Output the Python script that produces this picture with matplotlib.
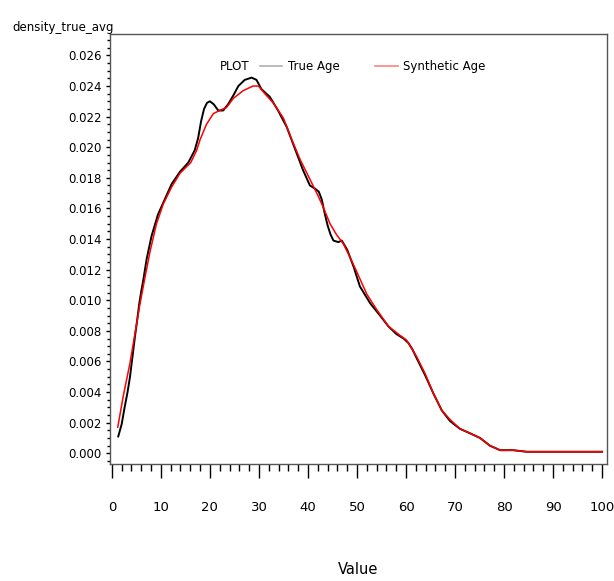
"""Density plot: true vs synthetic age."""

import matplotlib

matplotlib.use("Agg")
import matplotlib.pyplot as plt  # noqa: E402
from matplotlib import font_manager  # noqa: E402
from matplotlib.lines import Line2D  # noqa: E402
from matplotlib.ticker import MultipleLocator  # noqa: E402

true_x = [1.3, 2.0, 2.6, 3.2, 3.7, 4.2, 4.7, 5.2, 5.6, 6.0, 6.4, 7.1, 8.1, 9.4, 10.8,
          12.2, 13.9, 15.6, 16.9, 17.6, 18.2, 18.8, 19.4, 20.0, 20.8, 21.7, 22.7, 23.7,
          24.8, 25.8, 27.1, 28.5, 29.5, 30.5, 32.2, 33.9, 35.7, 37.7, 39.0, 40.4, 41.4,
          42.2, 42.8, 43.4, 44.0, 44.6, 45.2, 46.2, 46.9, 48.0, 49.3, 50.6, 52.7, 54.7,
          56.4, 58.0, 59.5, 60.5, 61.3, 62.2, 63.9, 65.6, 67.3, 69.0, 71.0, 73.1, 75.1,
          77.1, 79.2, 81.9, 84.6, 88.7, 95.5, 100.0]
true_y = [0.0011, 0.0019, 0.0030, 0.0040, 0.0050, 0.0063, 0.0076, 0.0088, 0.0098, 0.0106,
          0.0113, 0.0127, 0.0142, 0.0156, 0.0166, 0.0176, 0.0184, 0.0190, 0.0198, 0.0206,
          0.0217, 0.0225, 0.0229, 0.0230, 0.0228, 0.0224, 0.0224, 0.0228, 0.0234, 0.0240,
          0.0244, 0.02455, 0.0244, 0.0238, 0.0233, 0.0224, 0.0213, 0.0196, 0.0185, 0.0175,
          0.0173, 0.0171, 0.0166, 0.0157, 0.0149, 0.0143, 0.0139, 0.0138, 0.0139, 0.0133,
          0.0122, 0.0109, 0.0098, 0.0090, 0.0083, 0.0078, 0.0075, 0.0072, 0.0068, 0.0062,
          0.0051, 0.0039, 0.0028, 0.0021, 0.0016, 0.0013, 0.0010, 0.0005, 0.0002, 0.0002,
          0.0001, 0.0001, 0.0001, 0.0001]

synth_x = [1.2, 2.3, 3.0, 3.7, 4.7, 5.7, 6.7, 7.8, 9.1, 10.5, 12.2, 13.9, 16.1, 17.3,
           18.0, 19.3, 20.7, 22.0, 23.4, 24.8, 26.8, 28.8, 29.9, 31.2, 32.9, 35.0, 36.7,
           38.4, 40.1, 41.8, 43.1, 44.5, 45.8, 47.2, 48.6, 49.9, 52.0, 54.0, 56.4, 58.8,
           60.1, 62.2, 63.9, 65.6, 67.3, 69.0, 71.0, 73.1, 75.1, 77.1, 79.2, 81.9, 84.6,
           88.7, 95.5, 100.0]
synth_y = [0.0017, 0.0037, 0.0048, 0.0059, 0.0078, 0.0097, 0.0114, 0.0132, 0.0150, 0.0163,
           0.0174, 0.0183, 0.0190, 0.0198, 0.0205, 0.0215, 0.0222, 0.0224, 0.0226, 0.0232,
           0.0237, 0.0240, 0.0240, 0.0235, 0.0229, 0.0219, 0.0205, 0.0192, 0.0181, 0.0170,
           0.0161, 0.0150, 0.0143, 0.0137, 0.0128, 0.0119, 0.0104, 0.0094, 0.0083, 0.0077,
           0.0074, 0.0063, 0.0052, 0.0039, 0.0028, 0.0022, 0.0016, 0.0013, 0.0010, 0.0005,
           0.0002, 0.0002, 0.0001, 0.0001, 0.0001, 0.0001]

x_ticks = list(range(0, 101, 10))
y_ticks = [i * 0.002 for i in range(14)]

names = {f.name for f in font_manager.fontManager.ttflist}
narrow = "Liberation Sans Narrow" in names
plt.rcParams["font.family"] = ["Liberation Sans Narrow" if narrow else "DejaVu Sans"]
fs = 11 if narrow else 8.5

fig = plt.figure(figsize=(6.14, 5.81), dpi=100)
ax = fig.add_axes([0.179, 0.2014, 0.8096, 0.7401])

ax.plot(true_x, true_y, color="black", lw=1.4, solid_joinstyle="round")
ax.plot(synth_x, synth_y, color="#ff0000", lw=1.1, solid_joinstyle="round")

ax.set_xlim(-0.4, 101)
ax.set_ylim(-0.0007, 0.0274)
ax.set_xticks(x_ticks, [str(t) for t in x_ticks], fontsize=fs + 1)
ax.set_yticks(y_ticks, [f"{t:.3f}" for t in y_ticks], fontsize=fs)
ax.xaxis.set_minor_locator(MultipleLocator(2))
ax.yaxis.set_minor_locator(MultipleLocator(0.0005))
ax.tick_params(axis="x", which="major", direction="out", length=10, width=1, pad=17)
ax.tick_params(axis="x", which="minor", direction="out", length=5, width=1)
ax.tick_params(axis="y", which="major", direction="out", length=3, width=1, pad=3)
ax.tick_params(axis="y", which="minor", direction="out", length=2, width=1)
for s in ax.spines.values():
    s.set_color("#555555")
    s.set_linewidth(1)

ax.set_xlabel("Value", fontsize=fs + 2, labelpad=34)
fig.text(12 / 614, 1 - 27 / 581, "density_true_avg", fontsize=fs, va="center", ha="left")

fig.text(220 / 614, 1 - 67 / 581, "PLOT", fontsize=fs, va="center", ha="left")
handles = [Line2D([], [], color="#b0b0b0", lw=1.2), Line2D([], [], color="#ff8080", lw=1.2)]
ax.legend(handles, ["True Age", "Synthetic Age"], ncol=2, frameon=False, fontsize=fs,
          loc="center left", bbox_to_anchor=(145 / 497, 1 - 33 / 430),
          handlelength=1.9, handletextpad=0.5, columnspacing=3.0, borderaxespad=0)

fig.savefig("out.png", dpi=100)
